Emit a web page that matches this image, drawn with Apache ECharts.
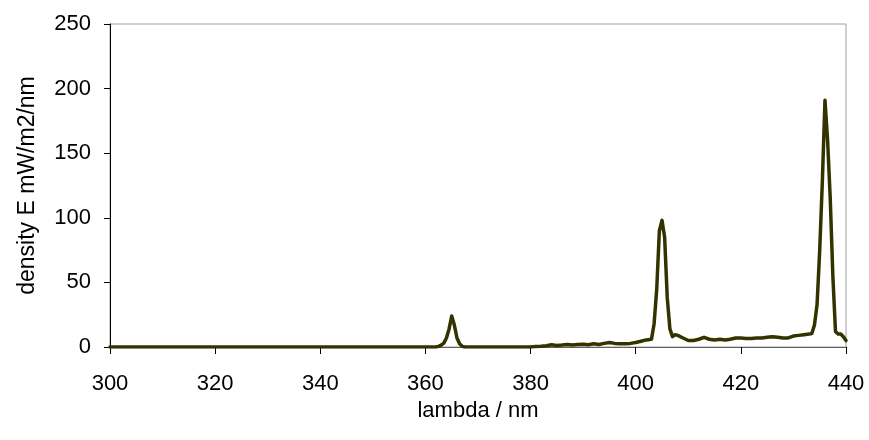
<!DOCTYPE html>
<html>
<head>
<meta charset="utf-8">
<script src="https://cdn.jsdelivr.net/npm/echarts@6/dist/echarts.min.js"></script>
<style>html,body{margin:0;padding:0;background:#fff;}#c{width:869px;height:440px;}</style>
</head>
<body>
<div id="c"></div>
<script>
var wavelength = [300,320,340,360,362,362.5,363,363.5,364,364.5,365,365.5,366,366.5,367,367.5,370,375,380,
  381,382,383,384,385,386,387,388,389,390,391,392,393,394,395,396,397,398,399,400,401,402,403,
  403.5,404,404.5,405,405.5,406,406.5,407,407.5,408,409,410,411,412,413,414,415,416,417,418,419,420,
  421,422,423,424,425,426,427,428,429,430,431,432,433,433.5,434,434.5,435,435.5,436,436.5,437,437.5,
  438,438.5,439,439.5,440];
var density = [0,0,0,0,0,0.5,1.5,3,7,14,24,17,7,2.5,0.5,0,0,0,0,
  0.3,0.5,1,1.8,1.2,1.5,2,1.5,2,2.2,1.8,2.5,2,2.8,3.5,2.8,2.5,2.5,2.8,3.5,4.5,5.5,6,
  18,45,90,98,85,38,14,8,9.5,9,7,5,5,6,7.5,6,5.5,6,5.5,6,7,7,
  6.5,6.5,7,7,7.5,8,7.5,7,7,8.5,9,9.5,10,10.5,17,33,75,128,191,160,115,55,
  12,10,10,8,5];
var xTicks = {min:300, max:440, interval:20};
var yTicks = {min:0, max:250, interval:50};

var pts = wavelength.map(function(w,i){return [w, density[i]];});
var chart = echarts.init(document.getElementById('c'), null, {renderer:'canvas'});
var font = 'Liberation Sans, Arial, sans-serif';
chart.setOption({
  backgroundColor:'#fff',
  animation:false,
  grid:{left:110, right:23, top:24, bottom:93, show:true, borderColor:'#a0a0a0', borderWidth:1, backgroundColor:'transparent'},
  xAxis:{type:'value', min:xTicks.min, max:xTicks.max, interval:xTicks.interval,
    name:'lambda / nm', nameLocation:'middle', nameGap:45,
    nameTextStyle:{fontFamily:font, fontSize:22, color:'#000'},
    axisLine:{show:true, onZero:false, lineStyle:{color:'#606060', width:1}},
    axisTick:{show:true, inside:false, length:7, lineStyle:{color:'#000'}},
    axisLabel:{margin:26, fontFamily:font, fontSize:22, color:'#000'},
    splitLine:{show:false}},
  yAxis:{type:'value', min:yTicks.min, max:yTicks.max, interval:yTicks.interval,
    name:'density E mW/m2/nm', nameLocation:'middle', nameGap:71,
    nameTextStyle:{fontFamily:font, fontSize:23, color:'#000'},
    axisLine:{show:true, lineStyle:{color:'#000', width:1}},
    axisTick:{show:true, inside:false, length:6, lineStyle:{color:'#000'}},
    axisLabel:{margin:19, fontFamily:font, fontSize:22, color:'#000'},
    splitLine:{show:false}},
  series:[{type:'line', data:pts, showSymbol:false, symbol:'none',
    lineStyle:{color:'#333300', width:3.5, join:'round', cap:'round'}}]
});
</script>
</body>
</html>
